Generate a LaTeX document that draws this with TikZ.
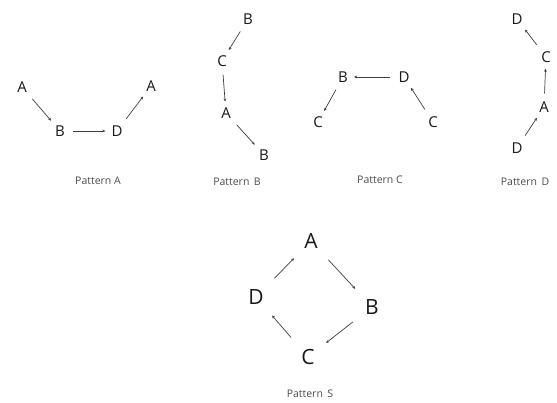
\documentclass[tikz,border=0pt]{standalone}
\usepackage{fontspec}
\setmainfont{Open Sans}
\usetikzlibrary{arrows.meta}
\tikzset{
  lt/.style={font=\fontsize{15}{15}\selectfont, text=black!90, inner sep=1pt},
  ltb/.style={font=\fontsize{21}{21}\selectfont, text=black!90, inner sep=1pt},
  captxt/.style={font=\fontsize{10.5}{11}\selectfont, text=black!70},
  con/.style={draw=black!75, line width=0.7pt, -{Stealth[length=3pt,width=2.8pt]}, shorten >=5pt, shorten <=7pt},
  conb/.style={con, shorten <=14pt, shorten >=13pt},
}
\begin{document}
\begin{tikzpicture}[x=1pt,y=-1pt]
\useasboundingbox[fill=white] (0,0) rectangle (557,403);
% Pattern A
\node[lt] (a1) at (22,87) {A};
\node[lt] (a2) at (60,131) {B};
\node[lt] (a3) at (117,131) {D};
\node[lt] (a4) at (151,86) {A};
\node[captxt] (la) at (98,181) {Pattern A};
\draw[con] (a1) -- (a2);
\draw[con] (a2) -- (a3);
\draw[con] (a3) -- (a4);
% Pattern B
\node[lt] (b1) at (248,19) {B};
\node[lt] (b2) at (222,61) {C};
\node[lt] (b3) at (226,113) {A};
\node[lt] (b4) at (264,155) {B};
\node[captxt] (lb) at (237,182) {Pattern\, B};
\draw[con] (b1) -- (b2);
\draw[con] (b2) -- (b3);
\draw[con] (b3) -- (b4);
% Pattern C
\node[lt] (c1) at (343,77) {B};
\node[lt] (c2) at (404,77) {D};
\node[lt] (c3) at (318,122) {C};
\node[lt] (c4) at (433,122) {C};
\node[captxt] (lc) at (380,180) {Pattern C};
\draw[con] (c2) -- (c1);
\draw[con] (c1) -- (c3);
\draw[con] (c4) -- (c2);
% Pattern D
\node[lt] (d1) at (517,19) {D};
\node[lt] (d2) at (546,57) {C};
\node[lt] (d3) at (544,107) {A};
\node[lt] (d4) at (517,148) {D};
\node[captxt] (ld) at (525,182) {Pattern\, D};
\draw[con] (d2) -- (d1);
\draw[con] (d3) -- (d2);
\draw[con] (d4) -- (d3);
% Pattern S
\node[ltb] (s1) at (311,241) {A};
\node[ltb] (s2) at (372,307) {B};
\node[ltb] (s3) at (308,357) {C};
\node[ltb] (s4) at (256,297) {D};
\node[captxt] (ls) at (310,394) {Pattern\, S};
\draw[conb] (s1) -- (s2);
\draw[conb] (s2) -- (s3);
\draw[conb] (s3) -- (s4);
\draw[conb] (s4) -- (s1);
\end{tikzpicture}
\end{document}
